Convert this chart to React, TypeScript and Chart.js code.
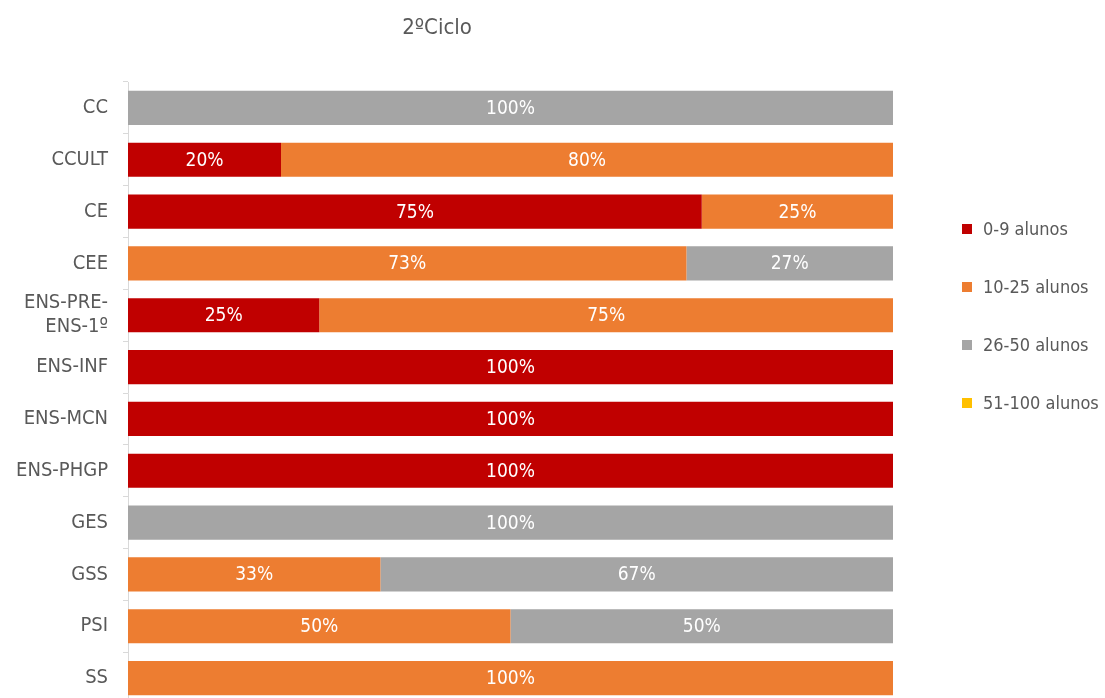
import React, { useEffect, useRef } from "react";
import { Chart, registerables } from "chart.js";

Chart.register(...registerables);

const TITLE = "2ºCiclo";
const categories: (string | string[])[] = [
  "CC",
  "CCULT",
  "CE",
  "CEE",
  ["ENS-PRE-", "ENS-1º"],
  "ENS-INF",
  "ENS-MCN",
  "ENS-PHGP",
  "GES",
  "GSS",
  "PSI",
  "SS",
];
const seriesNames = ["0-9 alunos", "10-25 alunos", "26-50 alunos", "51-100 alunos"];
const s0_9 = [0, 20, 75, 0, 25, 100, 100, 100, 0, 0, 0, 0];
const s10_25 = [0, 80, 25, 73, 75, 0, 0, 0, 0, 33, 50, 100];
const s26_50 = [100, 0, 0, 27, 0, 0, 0, 0, 100, 67, 50, 0];
const s51_100 = [0, 0, 0, 0, 0, 0, 0, 0, 0, 0, 0, 0];
const colors = ["#C00000", "#ED7D31", "#A5A5A5", "#FFC000"];

const FONT = "'Liberation Sans Narrow', 'DejaVu Sans Condensed', 'Liberation Sans', sans-serif";
const TEXT = "#595959";

const overlayPlugin = {
  id: "overlay",
  afterDatasetsDraw(chart: any) {
    const ctx = chart.ctx;
    ctx.save();
    ctx.font = `19px ${FONT}`;
    ctx.fillStyle = "#FFFFFF";
    ctx.textAlign = "center";
    ctx.textBaseline = "middle";
    chart.data.datasets.forEach((ds: any, di: number) => {
      const meta = chart.getDatasetMeta(di);
      meta.data.forEach((el: any, i: number) => {
        const v = ds.data[i];
        if (!v) return;
        const p = el.getProps(["x", "y", "base"], true);
        ctx.fillText(`${v}%`, (p.x + p.base) / 2, p.y + 1);
      });
    });
    ctx.restore();
  },
  afterDraw(chart: any) {
    const ctx = chart.ctx;
    ctx.save();
    ctx.font = `22px ${FONT}`;
    ctx.fillStyle = TEXT;
    ctx.textAlign = "center";
    ctx.textBaseline = "middle";
    ctx.fillText(TITLE, 437, 28);
    ctx.font = `18px ${FONT}`;
    ctx.textAlign = "left";
    chart.data.datasets.forEach((ds: any, i: number) => {
      const cy = 229 + i * 58;
      ctx.fillStyle = ds.backgroundColor;
      ctx.fillRect(962, cy - 5, 10, 10);
      ctx.fillStyle = TEXT;
      ctx.fillText(ds.label, 983, cy + 1);
    });
    ctx.restore();
  },
};

export default function App() {
  const ref = useRef<HTMLCanvasElement | null>(null);
  useEffect(() => {
    if (!ref.current) return;
    const data = [s0_9, s10_25, s26_50, s51_100];
    const chart = new Chart(ref.current, {
      type: "bar",
      data: {
        labels: categories,
        datasets: data.map((d, i) => ({
          label: seriesNames[i],
          data: d,
          backgroundColor: colors[i],
          borderWidth: 0,
          categoryPercentage: 0.66,
          barPercentage: 1,
        })),
      },
      options: {
        indexAxis: "y",
        animation: false,
        responsive: false,
        maintainAspectRatio: false,
        layout: { padding: { top: 82, bottom: 6, right: 212, left: 0 } },
        plugins: { legend: { display: false }, title: { display: false }, tooltip: { enabled: false } },
        scales: {
          x: { stacked: true, min: 0, max: 100, display: false },
          y: {
            stacked: true,
            afterFit: (scale: any) => {
              scale.width = 128;
            },
            border: { display: true, color: "#D9D9D9", width: 1 },
            grid: {
              drawOnChartArea: false,
              drawTicks: true,
              tickLength: 5,
              color: "#D9D9D9",
              offset: true,
            },
            ticks: {
              color: TEXT,
              padding: 15,
              font: { family: FONT, size: 20 },
              autoSkip: false,
            },
          },
        },
      },
      plugins: [overlayPlugin],
    });
    return () => chart.destroy();
  }, []);
  return (
    <div style={{ position: "fixed", left: 0, top: 0, width: 1105, height: 698, overflow: "hidden", background: "#fff" }}>
      <canvas ref={ref} width={1105} height={731} style={{ display: "block", width: 1105, height: 731 }} />
    </div>
  );
}
